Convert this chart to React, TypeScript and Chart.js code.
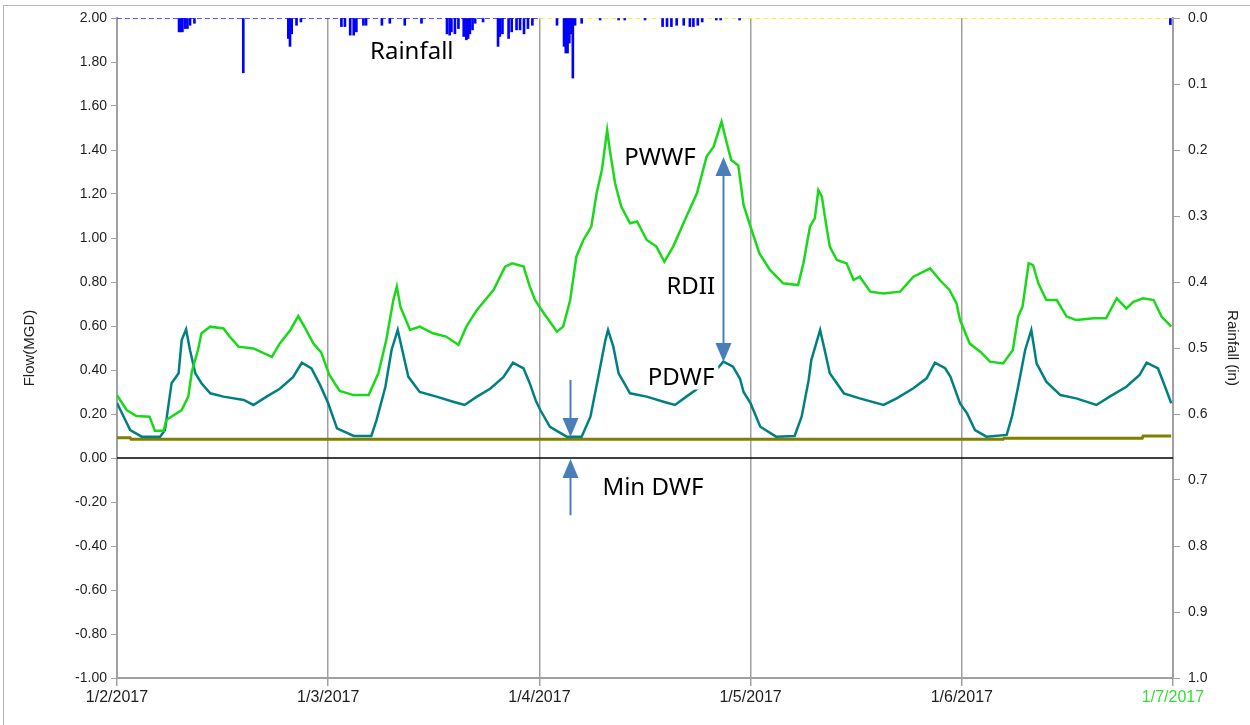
import React, { useEffect, useRef } from 'react';
import { Chart, registerables } from 'chart.js';

Chart.register(...registerables);

// X axis: hours since 1/2/2017 00:00
const xTickLabels = ['1/2/2017', '1/3/2017', '1/4/2017', '1/5/2017', '1/6/2017', '1/7/2017'];

// PDWF (teal)
const pdwfHours = [
  0, 1.5, 2.8, 4.9, 5.45, 6.2, 7.0, 7.35, 7.85, 8.3, 8.9, 9.6, 10.6, 12.1, 14.4, 15.5, 17.0, 18.5, 20.0, 21.0, 22.1, 23.1,
  24.0, 25.0, 26.9, 28.9, 29.5, 30.5, 31.2, 31.9, 32.5, 33.1, 34.4, 36.3, 38.2, 39.5, 40.9, 42.4, 43.9, 45.0, 46.2, 46.9, 47.6,
  48.1, 49.2, 51.1, 52.8, 53.8, 54.7, 55.5, 55.8, 56.4, 57.0, 58.3, 60.2, 62.1, 63.4, 64.7, 66.6, 68.1, 68.9, 70.0, 70.8, 71.2,
  72.0, 73.1, 74.9, 77.0, 77.8, 78.6, 78.9, 79.9, 80.5, 81.0, 82.6, 84.4, 87.1, 88.6, 90.5, 92.0, 92.95, 94.1, 94.7, 95.8,
  96.6, 97.5, 98.8, 101.1, 101.7, 102.4, 103.2, 103.9, 104.5, 105.6, 107.2, 109.0, 111.3, 112.8, 114.7, 116.2, 117.0, 118.3,
  119.1, 119.8,
];
const pdwfValues = [
  0.25, 0.127, 0.097, 0.097, 0.127, 0.34, 0.385, 0.536, 0.585, 0.49, 0.385, 0.34, 0.294, 0.279, 0.264, 0.241, 0.279, 0.315, 0.367, 0.433, 0.407, 0.33,
  0.249, 0.135, 0.1, 0.1, 0.173, 0.324, 0.491, 0.582, 0.476, 0.37, 0.3, 0.279, 0.256, 0.241, 0.279, 0.315, 0.367, 0.433, 0.407, 0.34, 0.26,
  0.218, 0.142, 0.097, 0.097, 0.188, 0.37, 0.536, 0.582, 0.506, 0.385, 0.294, 0.279, 0.256, 0.241, 0.279, 0.333, 0.4, 0.438, 0.415, 0.36, 0.3,
  0.248, 0.142, 0.097, 0.1, 0.188, 0.355, 0.445, 0.582, 0.476, 0.385, 0.294, 0.271, 0.241, 0.271, 0.317, 0.362, 0.433, 0.408, 0.37, 0.248,
  0.203, 0.127, 0.097, 0.105, 0.188, 0.324, 0.491, 0.582, 0.43, 0.347, 0.286, 0.271, 0.241, 0.279, 0.324, 0.377, 0.433, 0.407,
  0.324, 0.249,
];

// PWWF (green)
const pwwfHours = [
  0, 1.1, 2.2, 3.7, 4.3, 5.3, 5.6, 7.35, 8.1, 8.5, 9.2, 9.6, 10.6, 12.1, 12.8, 13.8, 15.5, 17.6, 18.5, 19.7, 20.6, 21.4, 22.3, 23.2,
  24.1, 25.3, 26.9, 28.6, 29.7, 30.6, 31.4, 31.8, 32.2, 33.3, 34.4, 35.9, 37.4, 38.8, 39.7, 40.9, 42.8, 44.1, 44.9, 46.2, 46.9, 47.5,
  48.5, 50.0, 50.7, 51.5, 52.2, 53.0, 53.9, 54.5, 55.1, 55.7, 56.0, 56.6, 57.3, 58.3, 59.1, 60.2, 61.3, 62.2, 63.2, 64.7, 65.9, 67.0,
  67.8, 68.7, 69.3, 69.8, 70.6, 71.2, 72.0, 73.0, 74.2, 75.7, 77.4, 78.0, 78.75, 79.3, 79.7, 80.1, 80.5, 81.0, 81.8, 82.9, 83.7, 84.4,
  85.6, 87.1, 89.0, 90.5, 92.4, 93.5, 94.6, 95.4, 95.8, 96.9, 98.1, 99.2, 100.7, 101.8, 102.4, 102.9, 103.6, 104.1, 104.7, 105.6,
  106.8, 107.9, 109.0, 111.0, 112.4, 113.6, 114.7, 115.5, 116.6, 117.8, 118.7, 119.8,
];
const pwwfValues = [
  0.286, 0.218, 0.191, 0.188, 0.124, 0.124, 0.173, 0.218, 0.279, 0.392, 0.491, 0.567, 0.597, 0.589, 0.552, 0.506, 0.498, 0.46, 0.521, 0.582, 0.645, 0.589, 0.521, 0.48,
  0.38, 0.305, 0.286, 0.286, 0.385, 0.536, 0.718, 0.779, 0.688, 0.582, 0.597, 0.567, 0.552, 0.514, 0.597, 0.673, 0.764, 0.87, 0.885, 0.87, 0.78, 0.718,
  0.658, 0.574, 0.597, 0.718, 0.915, 0.991, 1.052, 1.203, 1.309, 1.49, 1.4, 1.249, 1.143, 1.067, 1.075, 0.991, 0.961, 0.892, 0.961, 1.097, 1.203, 1.37,
  1.415, 1.529, 1.43, 1.355, 1.33, 1.15, 1.05, 0.93, 0.855, 0.794, 0.786, 0.885, 1.052, 1.09, 1.218, 1.188, 1.082, 0.961, 0.9, 0.885, 0.809, 0.824,
  0.756, 0.748, 0.756, 0.824, 0.862, 0.809, 0.764, 0.703, 0.627, 0.52, 0.483, 0.438, 0.43, 0.491, 0.643, 0.688, 0.885, 0.877, 0.794, 0.718,
  0.718, 0.643, 0.627, 0.635, 0.635, 0.726, 0.68, 0.71, 0.726, 0.718, 0.643, 0.597,
];

// Min DWF (olive)
const minDwfHours = [0, 1.5, 1.6, 100.7, 100.8, 116.5, 116.6, 119.8];
const minDwfValues = [0.092, 0.092, 0.085, 0.085, 0.09, 0.09, 0.1, 0.1];

// Rainfall (in), right axis
const rainHours = [
  7.05, 7.24, 7.43, 7.73, 8.0, 8.3, 8.8, 14.35, 19.47, 19.66, 19.85, 20.4, 20.9, 25.5, 25.9, 26.5, 26.9, 27.2, 28.0, 28.3,
  30.1, 31.0, 32.7, 34.6, 37.5, 37.8, 38.0, 38.4, 38.8, 39.4, 39.7, 39.9, 40.1, 40.4, 40.7, 41.6, 43.3, 43.5, 43.8, 44.5,
  44.85, 45.4, 45.8, 46.25, 46.7, 47.2, 50.0, 50.8, 51.0, 51.2, 51.4, 51.6, 51.8, 52.05, 52.8, 54.9, 57.0, 57.7, 60.0,
  62.0, 62.5, 63.0, 63.6, 64.4, 65.1, 65.5, 66.0, 66.5, 68.1, 68.6, 70.75, 119.7,
];
const rainValues = [
  0.021, 0.021, 0.021, 0.016, 0.016, 0.011, 0.008, 0.083, 0.031, 0.043, 0.024, 0.011, 0.006, 0.013, 0.013, 0.026, 0.026, 0.021, 0.011, 0.011,
  0.011, 0.008, 0.011, 0.008, 0.024, 0.026, 0.021, 0.024, 0.016, 0.028, 0.033, 0.031, 0.024, 0.018, 0.008, 0.006, 0.043, 0.028, 0.024, 0.031,
  0.021, 0.018, 0.018, 0.024, 0.016, 0.011, 0.011, 0.043, 0.053, 0.053, 0.038, 0.024, 0.091, 0.011, 0.008, 0.003, 0.003, 0.003, 0.003,
  0.013, 0.013, 0.013, 0.011, 0.011, 0.013, 0.013, 0.011, 0.006, 0.003, 0.003, 0.003, 0.01,
];

// Annotations (data units: hours, flow MGD)
const noteTexts = ['Rainfall', 'PWWF', 'RDII', 'PDWF', 'Min DWF'];
const noteHours = [33.5, 61.7, 65.2, 64.1, 60.9];
const noteFlows = [1.845, 1.364, 0.777, 0.364, -0.136];
const arrowHours = [51.5, 51.5, 68.9];
const arrowFrom = [0.355, -0.26, 0.436];
const arrowTo = [0.095, -0.005, 1.368];
const arrowDouble = [false, false, true];

const GRID = '#a0a0a0';
const ARROW = '#4a7ebb';
const TICK = '#1e1e1e';

const pts = (xs: number[], ys: number[]) => xs.map((x, i) => ({ x, y: ys[i] }));

function drawHead(ctx: CanvasRenderingContext2D, x: number, tipY: number, dir: number) {
  // dir: +1 pointing down, -1 pointing up
  const len = 19;
  const half = 8;
  ctx.beginPath();
  ctx.moveTo(x, tipY);
  ctx.lineTo(x - half, tipY - dir * len);
  ctx.lineTo(x + half, tipY - dir * len);
  ctx.closePath();
  ctx.fill();
}

const notesPlugin = {
  id: 'notes',
  afterDatasetsDraw(chart: any) {
    const { ctx } = chart;
    const xs = chart.scales.x;
    const ys = chart.scales.y;
    ctx.save();
    ctx.strokeStyle = ARROW;
    ctx.fillStyle = ARROW;
    ctx.lineWidth = 2;
    arrowHours.forEach((h, i) => {
      const px = Math.round(xs.getPixelForValue(h)) + 0.5;
      const y1 = ys.getPixelForValue(arrowFrom[i]);
      const y2 = ys.getPixelForValue(arrowTo[i]);
      const dir = y2 > y1 ? 1 : -1;
      const s1 = arrowDouble[i] ? y1 + dir * 15 : y1;
      const s2 = y2 - dir * 15;
      ctx.beginPath();
      ctx.moveTo(px, s1);
      ctx.lineTo(px, s2);
      ctx.stroke();
      drawHead(ctx, px, y2, dir);
      if (arrowDouble[i]) drawHead(ctx, px, y1, -dir);
    });
    ctx.font = '24px "Noto Sans", "Open Sans", sans-serif';
    ctx.textAlign = 'center';
    ctx.textBaseline = 'middle';
    noteTexts.forEach((t, i) => {
      const px = xs.getPixelForValue(noteHours[i]);
      const py = ys.getPixelForValue(noteFlows[i]);
      if (t === 'PDWF') {
        ctx.save();
        ctx.strokeStyle = 'rgba(255,255,255,0.95)';
        ctx.lineWidth = 9;
        ctx.lineJoin = 'round';
        ctx.strokeText(t, px, py);
        ctx.restore();
      }
      ctx.fillStyle = '#000';
      ctx.fillText(t, px, py);
    });
    ctx.restore();
  },
};

export default function App() {
  const ref = useRef<HTMLCanvasElement | null>(null);

  useEffect(() => {
    document.body.style.margin = '0';
    const canvas = ref.current;
    if (!canvas) return;
    const chart = new Chart(canvas, {
      type: 'line',
      data: {
        datasets: [
          {
            type: 'bar',
            label: 'Rainfall',
            yAxisID: 'yR',
            data: pts(rainHours, rainValues),
            backgroundColor: '#0000ff',
            borderWidth: 0,
            barThickness: 2,
            order: 1,
          } as any,
          {
            label: 'Rain zero 1',
            yAxisID: 'yR',
            data: pts([0, 48], [0, 0]),
            borderColor: '#2020ff',
            borderWidth: 1.5,
            borderDash: [5, 3],
            pointRadius: 0,
            order: 2,
          },
          {
            label: 'Rain zero 2',
            yAxisID: 'yR',
            data: pts([48, 120], [0, 0]),
            borderColor: '#f2f000',
            borderWidth: 1.5,
            borderDash: [5, 3],
            pointRadius: 0,
            order: 2,
          },
          {
            label: 'Zero',
            yAxisID: 'y',
            data: pts([0, 120], [0, 0]),
            borderColor: '#000000',
            borderWidth: 1.5,
            pointRadius: 0,
            order: 6,
          },
          {
            label: 'Min DWF',
            yAxisID: 'y',
            data: pts(minDwfHours, minDwfValues),
            borderColor: '#808000',
            borderWidth: 3,
            pointRadius: 0,
            order: 5,
          },
          {
            label: 'PDWF',
            yAxisID: 'y',
            data: pts(pdwfHours, pdwfValues),
            borderColor: '#008080',
            borderWidth: 2.5,
            pointRadius: 0,
            order: 4,
          },
          {
            label: 'PWWF',
            yAxisID: 'y',
            data: pts(pwwfHours, pwwfValues),
            borderColor: '#1ad81a',
            borderWidth: 2.5,
            pointRadius: 0,
            order: 3,
          },
        ],
      },
      options: {
        responsive: false,
        animation: false,
        maintainAspectRatio: false,
        layout: { padding: { top: 18, left: 0, right: 0, bottom: 0 } },
        plugins: { legend: { display: false }, tooltip: { enabled: false } },
        elements: { line: { tension: 0 } },
        scales: {
          x: {
            type: 'linear',
            min: 0,
            max: 120,
            offset: false,
            afterFit: (s: any) => { s.height = 47; },
            grid: { color: GRID, lineWidth: 1.5, tickLength: 8, drawTicks: true, offset: false },
            border: { color: GRID, width: 2 },
            ticks: {
              stepSize: 24,
              autoSkip: false,
              maxRotation: 0,
              padding: 2,
              font: { family: '"Liberation Sans", Arial, sans-serif', size: 16 },
              color: (c: any) => (c.index === xTickLabels.length - 1 ? '#33dd33' : TICK),
              callback: (v: any) => xTickLabels[Math.round(Number(v) / 24)],
            },
          },
          y: {
            type: 'linear',
            position: 'left',
            min: -1,
            max: 2,
            afterFit: (s: any) => { s.width = 117; },
            grid: { drawOnChartArea: false, color: GRID, tickLength: 6 },
            border: { color: GRID, width: 2 },
            title: {
              display: true,
              text: 'Flow(MGD)',
              color: TICK,
              font: { family: '"Liberation Sans", Arial, sans-serif', size: 15 },
              padding: { top: 21, bottom: 0 },
            },
            ticks: {
              stepSize: 0.2,
              autoSkip: false,
              padding: 4,
              color: TICK,
              font: { family: '"Liberation Sans", Arial, sans-serif', size: 14 },
              callback: (v: any) => Number(v).toFixed(2),
            },
          },
          yR: {
            type: 'linear',
            position: 'right',
            min: 0,
            max: 1,
            reverse: true,
            afterFit: (s: any) => { s.width = 77; },
            grid: { drawOnChartArea: false, color: GRID, tickLength: 7 },
            border: { color: GRID, width: 2 },
            title: {
              display: true,
              text: 'Rainfall (in)',
              color: TICK,
              font: { family: '"Liberation Sans", Arial, sans-serif', size: 15 },
              padding: { top: 9, bottom: 0 },
            },
            ticks: {
              stepSize: 0.1,
              autoSkip: false,
              padding: 8,
              color: TICK,
              font: { family: '"Liberation Sans", Arial, sans-serif', size: 14 },
              callback: (v: any) => Number(v).toFixed(1),
            },
          },
        },
      },
      plugins: [notesPlugin],
    });
    return () => chart.destroy();
  }, []);

  return (
    <div style={{ position: 'relative', width: 1250, height: 725, background: '#fff' }}>
      <canvas ref={ref} width={1250} height={725} style={{ display: 'block' }} />
      <div
        style={{
          position: 'absolute',
          left: 3,
          top: 5,
          right: 0,
          bottom: 0,
          borderLeft: '1px solid #b4b4b4',
          borderTop: '1px solid #b4b4b4',
          pointerEvents: 'none',
        }}
      />
    </div>
  );
}
